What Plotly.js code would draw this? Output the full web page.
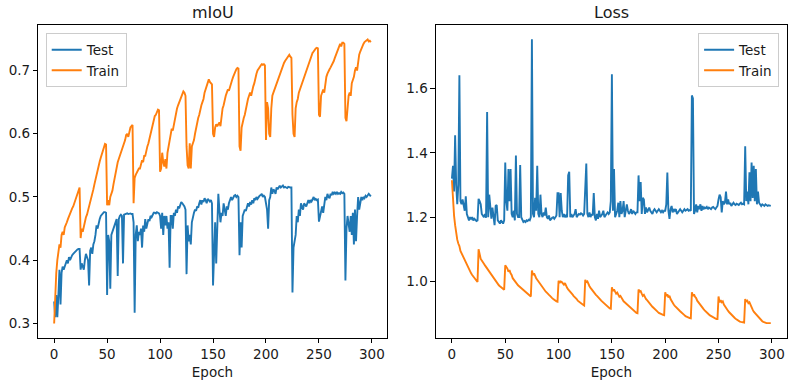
<!DOCTYPE html>
<html>
<head>
<meta charset="utf-8">
<script src="https://cdn.plot.ly/plotly-3.0.1.min.js"></script>
<style>
  html, body { margin: 0; padding: 0; background: #fff; }
  #chart { width: 795px; height: 385px; }
</style>
</head>
<body>
<div id="chart"></div>
<script>
// Training history: mIoU and loss per epoch (warm restarts every 25 epochs)
const xTicks = [0, 50, 100, 150, 200, 250, 300];
const miouTicks = [0.3, 0.4, 0.5, 0.6, 0.7];
const lossTicks = [1.0, 1.2, 1.4, 1.6];

const trainMiou = [
  0.300,0.345,0.380,0.400,0.415,0.425,0.420,0.440,0.445,0.440,0.452,0.455,0.460,0.465,0.470,0.472,0.478,0.482,0.485,0.490,0.496,0.500,0.505,0.512,0.515,
  0.435,0.450,0.445,0.455,0.462,0.468,0.472,0.478,0.485,0.492,0.500,0.505,0.512,0.520,0.528,0.535,0.542,0.550,0.556,0.562,0.568,0.574,0.578,0.584,0.583,
  0.487,0.495,0.487,0.500,0.505,0.510,0.520,0.530,0.540,0.548,0.555,0.560,0.565,0.570,0.572,0.578,0.585,0.590,0.598,0.600,0.595,0.605,0.610,0.612,0.614,
  0.490,0.530,0.535,0.538,0.540,0.545,0.545,0.552,0.558,0.555,0.565,0.565,0.575,0.580,0.585,0.592,0.600,0.610,0.618,0.625,0.628,0.630,0.634,0.638,0.637,
  0.540,0.545,0.570,0.555,0.548,0.560,0.545,0.570,0.580,0.590,0.600,0.608,0.605,0.615,0.625,0.632,0.640,0.645,0.650,0.655,0.660,0.664,0.667,0.665,0.660,
  0.580,0.550,0.545,0.585,0.545,0.580,0.585,0.590,0.600,0.610,0.620,0.625,0.630,0.640,0.645,0.650,0.655,0.665,0.670,0.675,0.680,0.686,0.682,0.680,0.678,
  0.600,0.595,0.610,0.615,0.612,0.615,0.618,0.612,0.630,0.640,0.645,0.655,0.660,0.665,0.670,0.668,0.675,0.680,0.685,0.690,0.695,0.700,0.702,0.704,0.703,
  0.580,0.573,0.610,0.620,0.625,0.630,0.640,0.650,0.655,0.660,0.665,0.660,0.670,0.675,0.680,0.690,0.695,0.700,0.702,0.705,0.708,0.710,0.709,0.710,0.708,
  0.590,0.650,0.640,0.600,0.595,0.640,0.660,0.665,0.670,0.675,0.680,0.685,0.690,0.695,0.700,0.705,0.710,0.712,0.715,0.718,0.720,0.722,0.725,0.722,0.720,
  0.630,0.600,0.595,0.640,0.650,0.655,0.665,0.670,0.675,0.680,0.685,0.690,0.695,0.700,0.705,0.710,0.715,0.720,0.725,0.728,0.730,0.733,0.735,0.736,0.735,
  0.630,0.627,0.660,0.665,0.670,0.665,0.680,0.690,0.695,0.700,0.702,0.705,0.708,0.712,0.715,0.720,0.725,0.730,0.735,0.740,0.742,0.738,0.744,0.744,0.742,
  0.625,0.620,0.640,0.660,0.665,0.660,0.680,0.685,0.690,0.700,0.705,0.700,0.715,0.725,0.730,0.735,0.740,0.742,0.745,0.746,0.748,0.749,0.746,0.747,0.745
];

const testMiou = [
  0.335,0.310,0.345,0.310,0.345,0.385,0.330,0.380,0.390,0.385,0.390,0.395,0.400,0.395,0.405,0.400,0.405,0.408,0.410,0.412,0.414,0.415,0.417,0.418,0.418,
  0.385,0.395,0.390,0.385,0.400,0.410,0.405,0.400,0.360,0.415,0.420,0.410,0.425,0.430,0.440,0.455,0.450,0.460,0.465,0.470,0.472,0.474,0.476,0.476,0.475,
  0.345,0.440,0.430,0.355,0.440,0.445,0.450,0.455,0.460,0.465,0.375,0.465,0.470,0.472,0.470,0.395,0.472,0.473,0.473,0.474,0.473,0.474,0.474,0.473,0.473,
  0.460,0.317,0.440,0.455,0.430,0.445,0.440,0.450,0.420,0.455,0.445,0.465,0.450,0.460,0.465,0.462,0.470,0.468,0.472,0.475,0.475,0.474,0.476,0.475,0.474,
  0.470,0.450,0.475,0.440,0.470,0.455,0.470,0.450,0.460,0.388,0.470,0.470,0.450,0.475,0.470,0.480,0.475,0.485,0.482,0.488,0.492,0.490,0.488,0.485,0.480,
  0.378,0.455,0.430,0.440,0.425,0.460,0.470,0.475,0.480,0.478,0.485,0.483,0.490,0.495,0.488,0.495,0.492,0.498,0.495,0.490,0.497,0.495,0.493,0.495,0.490,
  0.360,0.430,0.460,0.395,0.470,0.505,0.480,0.460,0.475,0.470,0.490,0.480,0.470,0.485,0.480,0.490,0.495,0.500,0.495,0.500,0.502,0.503,0.500,0.502,0.500,
  0.408,0.460,0.420,0.470,0.475,0.480,0.478,0.485,0.490,0.485,0.492,0.488,0.495,0.490,0.498,0.495,0.500,0.497,0.500,0.502,0.503,0.505,0.500,0.502,0.500,
  0.490,0.480,0.450,0.495,0.500,0.515,0.505,0.512,0.510,0.505,0.515,0.512,0.515,0.518,0.515,0.516,0.518,0.515,0.516,0.515,0.514,0.516,0.515,0.515,0.515,
  0.349,0.420,0.430,0.440,0.470,0.460,0.480,0.470,0.490,0.485,0.480,0.490,0.488,0.485,0.490,0.495,0.490,0.495,0.493,0.498,0.500,0.495,0.497,0.495,0.496,
  0.461,0.470,0.480,0.485,0.475,0.490,0.500,0.495,0.505,0.500,0.498,0.505,0.503,0.508,0.505,0.507,0.505,0.508,0.505,0.506,0.505,0.508,0.506,0.507,0.505,
  0.368,0.450,0.470,0.455,0.445,0.470,0.440,0.475,0.425,0.480,0.430,0.470,0.500,0.480,0.495,0.500,0.495,0.500,0.498,0.502,0.500,0.502,0.505,0.503,0.501
];

const trainLoss = [
  1.315,1.250,1.205,1.175,1.150,1.130,1.118,1.110,1.095,1.088,1.078,1.070,1.062,1.055,1.048,1.042,1.035,1.030,1.025,1.020,1.015,1.010,1.005,1.000,0.998,
  1.100,1.080,1.070,1.065,1.058,1.055,1.050,1.045,1.042,1.035,1.030,1.025,1.020,1.015,1.010,1.005,1.000,0.995,0.992,0.988,0.985,0.982,0.978,0.975,0.974,
  1.050,1.045,1.040,1.030,1.035,1.025,1.020,1.010,1.005,1.000,0.995,0.990,0.988,0.985,0.982,0.978,0.975,0.972,0.970,0.965,0.962,0.960,0.958,0.955,0.953,
  1.034,1.020,1.025,1.015,1.010,1.005,1.000,0.995,0.990,0.985,0.980,0.975,0.972,0.968,0.965,0.960,0.958,0.955,0.950,0.948,0.945,0.942,0.940,0.938,0.937,
  1.002,0.995,1.000,0.998,0.995,0.990,0.995,0.985,0.980,0.975,0.972,0.968,0.965,0.960,0.955,0.952,0.950,0.945,0.940,0.938,0.935,0.932,0.930,0.927,0.925,
  1.005,0.998,1.000,0.990,0.985,0.980,0.975,0.970,0.965,0.962,0.958,0.955,0.950,0.947,0.944,0.940,0.937,0.934,0.930,0.927,0.924,0.921,0.918,0.916,0.915,
  0.982,0.970,0.975,0.968,0.962,0.965,0.958,0.952,0.955,0.948,0.943,0.938,0.935,0.932,0.928,0.924,0.920,0.917,0.914,0.911,0.908,0.906,0.904,0.902,0.901,
  0.975,0.968,0.970,0.962,0.955,0.958,0.950,0.945,0.942,0.937,0.933,0.929,0.925,0.921,0.918,0.914,0.911,0.908,0.905,0.902,0.900,0.898,0.897,0.896,0.895,
  0.966,0.955,0.960,0.950,0.955,0.945,0.938,0.932,0.928,0.924,0.920,0.916,0.913,0.910,0.907,0.904,0.900,0.898,0.895,0.892,0.890,0.888,0.887,0.886,0.885,
  0.966,0.955,0.960,0.952,0.948,0.940,0.935,0.930,0.926,0.922,0.918,0.914,0.910,0.906,0.903,0.900,0.897,0.894,0.892,0.889,0.887,0.885,0.884,0.883,0.883,
  0.953,0.935,0.942,0.935,0.938,0.928,0.922,0.918,0.912,0.908,0.904,0.900,0.897,0.893,0.890,0.887,0.884,0.881,0.879,0.877,0.875,0.874,0.873,0.873,0.872,
  0.945,0.938,0.940,0.932,0.935,0.925,0.918,0.912,0.906,0.902,0.898,0.894,0.890,0.886,0.882,0.879,0.876,0.874,0.872,0.871,0.870,0.870,0.869,0.870,0.870
];

const testLoss = [
  1.320,1.360,1.280,1.455,1.300,1.240,1.300,1.642,1.250,1.240,1.255,1.230,1.220,1.265,1.210,1.200,1.190,1.200,1.195,1.200,1.190,1.195,1.192,1.188,1.190,
  1.257,1.250,1.240,1.210,1.205,1.200,1.210,1.198,1.527,1.200,1.270,1.220,1.195,1.230,1.200,1.175,1.235,1.238,1.190,1.185,1.180,1.190,1.185,1.180,1.190,
  1.370,1.250,1.220,1.350,1.250,1.350,1.210,1.200,1.220,1.190,1.392,1.210,1.200,1.200,1.362,1.200,1.190,1.185,1.188,1.185,1.190,1.188,1.192,1.190,1.200,
  1.754,1.210,1.200,1.260,1.220,1.360,1.210,1.200,1.270,1.210,1.200,1.215,1.205,1.230,1.200,1.195,1.205,1.190,1.195,1.198,1.200,1.195,1.200,1.205,1.275,
  1.275,1.200,1.275,1.220,1.200,1.210,1.200,1.205,1.200,1.330,1.341,1.200,1.210,1.200,1.205,1.210,1.225,1.200,1.205,1.210,1.208,1.212,1.210,1.205,1.210,
  1.290,1.367,1.210,1.200,1.215,1.200,1.210,1.205,1.275,1.200,1.190,1.210,1.195,1.220,1.200,1.205,1.210,1.220,1.200,1.205,1.210,1.215,1.210,1.215,1.250,
  1.645,1.220,1.350,1.200,1.210,1.220,1.245,1.200,1.250,1.210,1.220,1.250,1.200,1.215,1.240,1.220,1.210,1.215,1.225,1.210,1.220,1.215,1.210,1.215,1.215,
  1.330,1.250,1.309,1.210,1.260,1.255,1.210,1.230,1.215,1.225,1.230,1.220,1.215,1.210,1.220,1.225,1.220,1.215,1.220,1.225,1.220,1.215,1.220,1.215,1.220,
  1.220,1.240,1.339,1.220,1.195,1.225,1.235,1.215,1.225,1.220,1.225,1.210,1.215,1.220,1.225,1.220,1.215,1.220,1.225,1.220,1.222,1.225,1.220,1.222,1.220,
  1.579,1.570,1.210,1.220,1.240,1.215,1.235,1.225,1.240,1.220,1.235,1.225,1.230,1.228,1.232,1.225,1.230,1.228,1.225,1.230,1.232,1.228,1.225,1.230,1.235,
  1.255,1.270,1.262,1.215,1.250,1.240,1.245,1.280,1.240,1.255,1.240,1.245,1.235,1.240,1.245,1.240,1.238,1.242,1.240,1.238,1.242,1.245,1.240,1.242,1.240,
  1.421,1.250,1.280,1.240,1.340,1.250,1.370,1.260,1.360,1.250,1.350,1.240,1.280,1.245,1.240,1.235,1.240,1.238,1.235,1.240,1.238,1.235,1.237,1.235,1.235
];

const epochs = trainMiou.map((_, i) => i);

const BLUE = '#1f77b4';
const ORANGE = '#ff7f0e';
const FONT = 'DejaVu Sans, Liberation Sans, sans-serif';
const TXT = '#1a1a1a';
const TICK_SIZE = 13.5;

function line(y, name, color, xa, ya, legend) {
  return {
    x: epochs, y: y, name: name, type: 'scatter', mode: 'lines',
    line: { color: color, width: 1.9 },
    xaxis: xa, yaxis: ya, legend: legend, hoverinfo: 'skip'
  };
}

const data = [
  line(testMiou, 'Test', BLUE, 'x', 'y', 'legend'),
  line(trainMiou, 'Train', ORANGE, 'x', 'y', 'legend'),
  line(testLoss, 'Test', BLUE, 'x2', 'y2', 'legend2'),
  line(trainLoss, 'Train', ORANGE, 'x2', 'y2', 'legend2')
];

function xAxis(domain, anchor) {
  return {
    domain: domain, anchor: anchor, range: [-14.95, 313.95],
    tickvals: xTicks, ticktext: xTicks.map(String),
    ticks: 'outside', ticklen: 4.5, tickwidth: 1, tickcolor: '#000',
    showline: true, linecolor: '#000', linewidth: 1, mirror: true,
    showgrid: false, zeroline: false,
    tickfont: { family: FONT, size: TICK_SIZE, color: TXT },
    title: { text: 'Epoch', font: { family: FONT, size: TICK_SIZE, color: TXT }, standoff: 6 }
  };
}

function yAxis(domain, anchor, range, ticks) {
  return {
    domain: domain, anchor: anchor, range: range,
    tickvals: ticks, ticktext: ticks.map(v => v.toFixed(1)),
    ticks: 'outside', ticklen: 4.5, tickwidth: 1, tickcolor: '#000',
    showline: true, linecolor: '#000', linewidth: 1, mirror: true,
    showgrid: false, zeroline: false,
    tickfont: { family: FONT, size: TICK_SIZE, color: TXT }
  };
}

const yDom = [0.1229, 0.9351];

const legendStyle = {
  bgcolor: 'rgba(255,255,255,0.8)', bordercolor: '#cccccc', borderwidth: 1,
  font: { family: FONT, size: TICK_SIZE, color: TXT },
  yanchor: 'top', y: 0.913, tracegroupgap: 0, itemwidth: 30
};

const layout = {
  width: 795, height: 385,
  margin: { l: 0, r: 0, t: 0, b: 0 },
  paper_bgcolor: '#fff', plot_bgcolor: '#fff',
  showlegend: true,
  xaxis: xAxis([0.0482, 0.4864], 'y'),
  yaxis: yAxis(yDom, 'x', [0.2775, 0.772], miouTicks),
  xaxis2: xAxis([0.5484, 0.9896], 'y2'),
  yaxis2: yAxis(yDom, 'x2', [0.8248, 1.7983], lossTicks),
  legend: Object.assign({}, legendStyle, { x: 0.0575, xanchor: 'left' }),
  legend2: Object.assign({}, legendStyle, { x: 0.980, xanchor: 'right' }),
  annotations: [
    { text: 'mIoU', xref: 'paper', yref: 'paper', x: (0.0482 + 0.4864) / 2, y: 0.967,
      xanchor: 'center', yanchor: 'middle', showarrow: false,
      font: { family: FONT, size: 16, color: TXT } },
    { text: 'Loss', xref: 'paper', yref: 'paper', x: (0.5484 + 0.9896) / 2, y: 0.967,
      xanchor: 'center', yanchor: 'middle', showarrow: false,
      font: { family: FONT, size: 16, color: TXT } }
  ]
};

Plotly.newPlot('chart', data, layout, { displayModeBar: false, staticPlot: true });
</script>
</body>
</html>
